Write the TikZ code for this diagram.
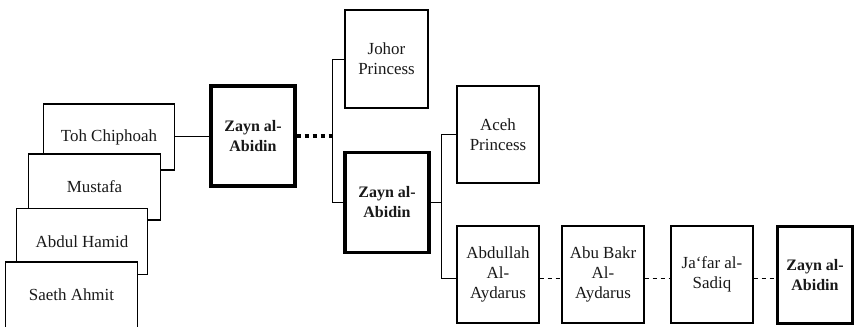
\documentclass[tikz,border=0pt]{standalone}
\usepackage{fontspec}
\setmainfont{Liberation Serif}
\tikzset{
  person/.style={draw=black, fill=white, line width=0.9pt, inner sep=1pt,
    align=center, font=\fontsize{12.7}{15}\selectfont, text=black!90},
  keyperson/.style={person, line width=2.4pt, font=\fontsize{12}{15}\selectfont\bfseries},
  stackbox/.style={person, minimum width=98.5pt, minimum height=49.5pt},
  tallbox/.style={person, minimum width=61.5pt, minimum height=72.75pt},
  keybox/.style={keyperson, minimum width=63pt, minimum height=75pt},
  link/.style={line width=0.75pt},
  dotlink/.style={line width=2.4pt, dash pattern=on 3pt off 3pt},
  dashlink/.style={line width=0.7pt, dash pattern=on 3pt off 3pt}
}
\begin{document}
\begin{tikzpicture}[x=0.75pt, y=-0.75pt]

\clip (0,0) rectangle (855,326);

% stacked ancestors, each drawn over the previous one
\node[stackbox] (toh) at (109,137) {Toh Chiphoah};
\node[stackbox] (mus) at (94.5,187) {Mustafa};
\node[stackbox] (abh) at (82,241.5) {Abdul Hamid};
\node[stackbox] (sae) at (71.5,295) {Saeth Ahmit};

% first generation
\node[keybox] (zay1) at (253,136) {Zayn al-\\Abidin};
\node[tallbox, minimum width=62.25pt, minimum height=73.5pt] (joh) at (386.5,59) {Johor\\Princess};
\node[keybox] (zay2) at (387,202.5) {Zayn al-\\Abidin};

% second generation
\node[tallbox] (ace) at (498,134.5) {Aceh\\Princess};
\node[tallbox] (abd) at (498,274.5) {Abdullah\\Al-\\Aydarus};
\node[tallbox] (abu) at (603,274.5) {Abu Bakr\\Al-\\Aydarus};
\node[tallbox] (jaf) at (712,274.5) {Ja‘far al-\\Sadiq};
\node[keyperson, minimum width=56.25pt, minimum height=72.75pt] (zay3) at (815,275) {Zayn al-\\Abidin};

% bracket rails and the row of the lineage chain
\coordinate (railA) at (332,0);
\coordinate (railB) at (441,0);
\coordinate (row) at (0,278);

% connectors
\draw[link] (toh.east |- zay1.west) -- (zay1.west);
\draw[dotlink] (zay1.east) -- (zay1.east -| railA);
\draw[link] (railA |- joh.west) -- (railA |- zay2.west);
\draw[link] (railA |- joh.west) -- (joh.west);
\draw[link] (railA |- zay2.west) -- (zay2.west);

\draw[link] (zay2.east) -- (zay2.east -| railB);
\draw[link] (railB |- ace.west) -- (railB |- row);
\draw[link] (railB |- ace.west) -- (ace.west);
\draw[link] (railB |- row) -- (abd.west |- row);

\draw[dashlink] (abd.east |- row) -- (abu.west |- row);
\draw[dashlink] (abu.east |- row) -- (jaf.west |- row);
\draw[dashlink] (jaf.east |- row) -- (zay3.west |- row);
\end{tikzpicture}
\end{document}
